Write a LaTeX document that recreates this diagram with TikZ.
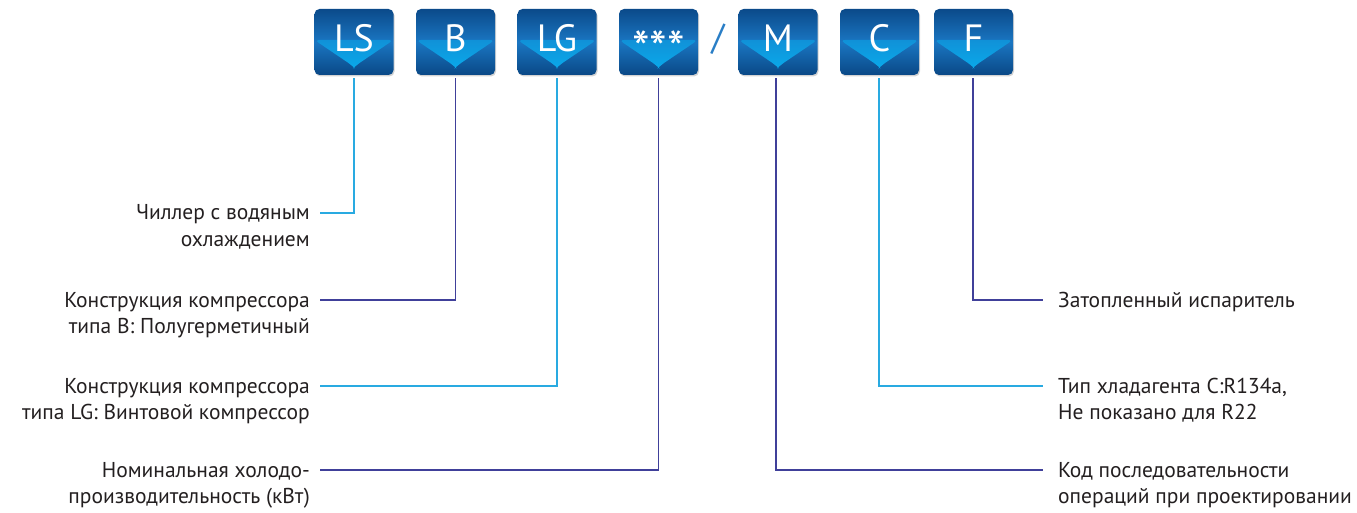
\documentclass[tikz,border=0pt]{standalone}
\usepackage{fontspec}
\setmainfont{PT Sans}
\usetikzlibrary{calc,shadows}
\definecolor{cyanl}{HTML}{29AAE1}
\definecolor{navyl}{HTML}{40409A}
\definecolor{txt}{HTML}{231F20}
\definecolor{boxtop}{HTML}{0B4A8A}
\definecolor{boxmid}{HTML}{1A76C2}
\definecolor{boxbot}{HTML}{0A4886}
\definecolor{chevtop}{HTML}{1878C4}
\definecolor{chevbot}{HTML}{08AEEE}
\definecolor{slashc}{HTML}{2A7EC6}
\newcommand{\boxtext}[2]{\raisebox{-#2}[0pt][0pt]{#1}}
\tikzset{
  codebox/.style={minimum width=79pt, minimum height=66pt, rounded corners=5pt, inner sep=0pt,
    text=white, font=\fontsize{38}{40}\selectfont,
    top color=boxtop, bottom color=boxbot, middle color=boxmid,
    drop shadow={opacity=0.35, shadow xshift=1pt, shadow yshift=-1.5pt},
    path picture={
      \shade[top color=chevtop, bottom color=chevbot]
        ($(path picture bounding box.west)+(0,2pt)$) -- ($(path picture bounding box.east)+(0,2pt)$)
        -- ($(path picture bounding box.center)+(2.5pt,-23pt)$)
        to[out=-135,in=-45] ($(path picture bounding box.center)+(-2.5pt,-23pt)$) -- cycle;
    }},
  lbl/.style={font=\fontsize{21.5}{26}\selectfont, text=txt, inner sep=0pt},
  lblL/.style={lbl, align=right, anchor=base east},
  lblR/.style={lbl, align=left, anchor=base west},
  cline/.style={line width=1.3pt, cyanl, shorten <=3pt},
  nline/.style={line width=1.3pt, navyl, shorten <=3pt}
}
\begin{document}
\begin{tikzpicture}[x=1pt,y=-1pt]
\useasboundingbox (0,0) rectangle (1357,513);
% boxes
\node[codebox] (ls) at (354,42) {\boxtext{LS}{10pt}};
\node[codebox] (b)  at (455.5,42) {\boxtext{B}{10pt}};
\node[codebox] (lg) at (557,42) {\boxtext{LG}{10pt}};
\node[codebox] (st) at (658.5,42) {\boxtext{\fontsize{50}{52}\selectfont ***}{25pt}};
\node[text=slashc, font=\fontsize{36}{38}\selectfont, inner sep=0pt] (sl) at (718,39) {/};
\node[codebox] (m)  at (778,42) {\boxtext{M}{10pt}};
\node[codebox] (c)  at (879.5,42) {\boxtext{C}{10pt}};
\node[codebox] (f)  at (973.5,42) {\boxtext{F}{10pt}};
% labels left (anchored at the last line's baseline)
\node[lblL] (t1) at (310,246) {Чиллер с водяным\\охлаждением};
\node[lblL] (t2) at (310,333) {Конструкция компрессора\\типа B: Полугерметичный};
\node[lblL] (t3) at (310,419) {Конструкция компрессора\\типа LG: Винтовой компрессор};
\node[lblL] (t4) at (310,503) {Номинальная холодо-\\производительность (кВт)};
% labels right
\node[lblR] (t5) at (1058,307) {Затопленный испаритель};
\node[lblR] (t6) at (1058,419) {Тип хладагента C:R134a,\\Не показано для R22};
\node[lblR] (t7) at (1058,503) {Код последовательности\\операций при проектировании};
% line ends
\coordinate (e1) at (320,213);
\coordinate (e2) at (320,300);
\coordinate (e3) at (320,386);
\coordinate (e4) at (320,470);
\coordinate (e5) at (1043,300);
\coordinate (e6) at (1043,386);
\coordinate (e7) at (1043,470);
% connectors
\draw[cline] (ls.south) |- (e1);
\draw[nline] (b.south) |- (e2);
\draw[cline] (lg.south) |- (e3);
\draw[nline] (st.south) |- (e4);
\draw[nline] ([xshift=-2pt]m.south) |- (e7);
\draw[cline] ([xshift=-0.5pt]c.south) |- (e6);
\draw[nline] ([xshift=-0.5pt]f.south) |- (e5);
\end{tikzpicture}
\end{document}
